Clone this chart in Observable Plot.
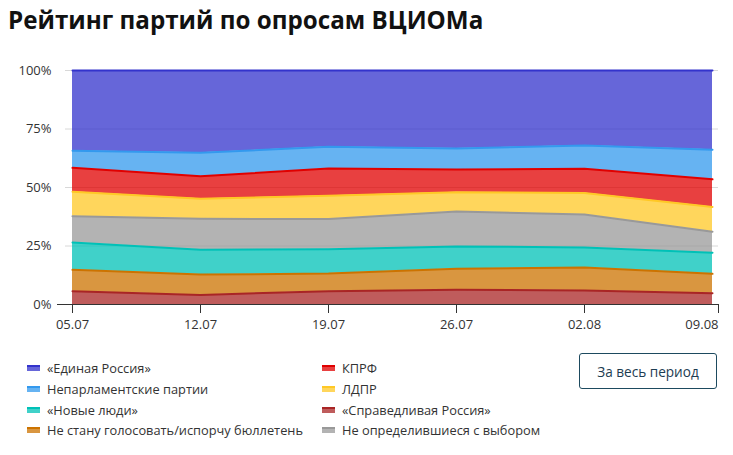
<!DOCTYPE html>
<html>
<head>
<meta charset="utf-8">
<script src="https://cdn.jsdelivr.net/npm/d3@7"></script>
<script src="https://cdn.jsdelivr.net/npm/@observablehq/plot@0.6"></script>
<style>
  html, body { margin: 0; padding: 0; background: #fff; }
  body { width: 733px; height: 455px; position: relative; overflow: hidden; font-family: "Open Sans", sans-serif; }
  #title { height: 50px; box-sizing: border-box; padding: 3px 0 0 8px; line-height: 34px; font-size: 24.2px; font-weight: 700; color: #111; white-space: nowrap; }
  #chart svg { display: block; }
  #legend { position: relative; height: 115px; box-sizing: border-box; padding: 18px 0 0 27px; display: grid; grid-template-columns: 295px 260px; grid-auto-rows: 20.7px; font-size: 12.8px; color: #333; }
  .item { display: flex; align-items: center; white-space: nowrap; }
  .sw { display: inline-block; width: 13px; height: 6px; margin-right: 7px; box-sizing: border-box; }
  #btn { position: absolute; left: 579px; top: 353px; width: 138px; height: 36px; box-sizing: border-box; border: 1px solid #1d4a5f; border-radius: 3px; font-size: 13.6px; color: #1d3d52; display: flex; align-items: center; justify-content: center; white-space: nowrap; }
</style>
</head>
<body>
<div id="title">Рейтинг партий по опросам ВЦИОМа</div>
<div id="chart"></div>
<div id="legend"></div>
<div id="btn">За весь период</div>
<script>
// Dates (x categories)
const dates = ["05.07", "12.07", "19.07", "26.07", "02.08", "09.08"];

// Series (percent)
const spravRossiya   = [5.7, 4.1, 5.7, 6.3, 6.0, 4.8];
const neStanu        = [9.1, 8.7, 7.5, 9.0, 9.8, 8.3];
const novyeLyudi     = [11.7, 10.6, 10.4, 9.5, 8.6, 9.0];
const neOpredelilis  = [11.2, 13.2, 12.9, 14.9, 14.1, 9.0];
const ldpr           = [10.5, 8.6, 10.0, 8.3, 9.1, 10.6];
const kprf           = [10.2, 9.6, 11.6, 9.7, 10.4, 11.8];
const neparlament    = [7.3, 10.0, 9.3, 9.0, 9.9, 12.6];
const edinayaRossiya = [34.3, 35.2, 32.6, 33.3, 32.1, 33.9];

// Series names
const nER = "«Единая Россия»";
const nNP = "Непарламентские партии";
const nNL = "«Новые люди»";
const nNS = "Не стану голосовать/испорчу бюллетень";
const nKP = "КПРФ";
const nLD = "ЛДПР";
const nSR = "«Справедливая Россия»";
const nNO = "Не определившиеся с выбором";

// Stack order bottom -> top
const stackOrder = [nSR, nNS, nNL, nNO, nLD, nKP, nNP, nER];
const seriesValues = [spravRossiya, neStanu, novyeLyudi, neOpredelilis, ldpr, kprf, neparlament, edinayaRossiya];

// Colors (line colors; areas drawn at 0.75 opacity)
const seriesColors = ["#a92525", "#cc7300", "#00c1b7", "#999999", "#ffc825", "#e00000", "#3399ee", "#3333cc"];

// Legend order (two columns)
const legendOrder = [nER, nKP, nNP, nLD, nNL, nSR, nNS, nNO];

const yTicks = [0, 0.25, 0.5, 0.75, 1];
const xIdx = dates.map((d, i) => i);

const data = [];
stackOrder.forEach((s, k) => {
  seriesValues[k].forEach((v, i) => data.push({series: s, xi: i, value: v}));
});

const stackOpts = {x: "xi", y: "value", z: "series", order: stackOrder, offset: "normalize"};

const plot = Plot.plot({
  width: 733,
  height: 290,
  marginLeft: 72,
  marginRight: 21,
  marginTop: 20,
  marginBottom: 36,
  style: {fontFamily: "Open Sans, sans-serif", fontSize: "13px", color: "#333", background: "#fff", overflow: "visible"},
  x: {domain: [0, dates.length - 1], axis: null},
  y: {domain: [0, 1], axis: null},
  color: {domain: stackOrder, range: seriesColors},
  marks: [
    Plot.ruleY(yTicks.slice(1), {stroke: "#d8d8d8", insetLeft: -7, insetRight: -6}),
    Plot.areaY(data, Plot.stackY({...stackOpts, fill: "series", fillOpacity: 0.75})),
    Plot.lineY(data, Plot.stackY2({...stackOpts, stroke: "series", strokeWidth: 2})),
    Plot.ruleY([0], {stroke: "#333", insetLeft: -15, insetRight: -6}),
    Plot.axisY({ticks: yTicks, tickSize: 0, tickPadding: 21, label: null, tickFormat: d => Math.round(d * 100) + "%", fill: "#333"}),
    Plot.axisX({ticks: xIdx.slice(0, -1), tickSize: 9, tickPadding: 6, label: null, tickFormat: i => dates[i], stroke: "#333", fill: "#333"}),
    Plot.axisX({ticks: xIdx.slice(-1), tickSize: 9, tickPadding: 6, label: null, tickFormat: i => dates[i], stroke: "#333", fill: "#333", textAnchor: "end", dx: 6})
  ]
});
document.getElementById("chart").appendChild(plot);

// Legend
const legend = document.getElementById("legend");
legendOrder.forEach(name => {
  const k = stackOrder.indexOf(name);
  const c = seriesColors[k];
  const item = document.createElement("div");
  item.className = "item";
  const sw = document.createElement("span");
  sw.className = "sw";
  sw.style.background = d3.interpolateRgb("#ffffff", c)(0.75);
  sw.style.borderTop = "2px solid " + c;
  item.appendChild(sw);
  item.appendChild(document.createTextNode(name));
  legend.appendChild(item);
});
</script>
</body>
</html>
